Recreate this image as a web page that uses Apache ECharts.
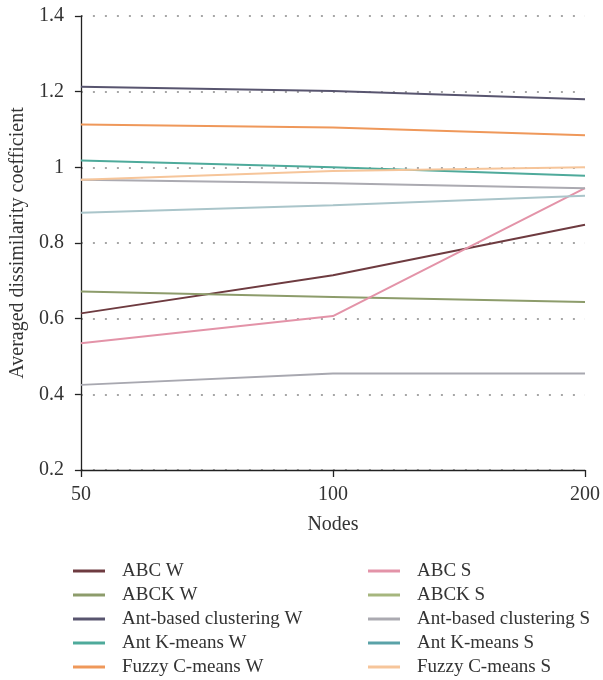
<!DOCTYPE html>
<html>
<head>
<meta charset="utf-8">
<title>Averaged dissimilarity coefficient</title>
<script src="https://cdn.jsdelivr.net/npm/echarts@6/dist/echarts.min.js"></script>
<style>
  html, body { margin: 0; padding: 0; background: #fff; }
  #chart { width: 603px; height: 680px; }
</style>
</head>
<body>
<div id="chart"></div>
<script>
// x轴节点数
var nodes = ['50', '100', '200'];

// 各算法的平均相异系数
var abcW = [0.614, 0.715, 0.848];
var abcS = [0.535, 0.607, 0.945];
var abckW = [0.672, 0.657, 0.644];
var abckS = [0.425, 0.455, 0.455];
var antBasedW = [1.213, 1.202, 1.180];
var antBasedS = [0.967, 0.958, 0.945];
var antKmeansW = [1.018, 1.000, 0.978];
var antKmeansS = [0.880, 0.900, 0.925];
var fuzzyW = [1.113, 1.105, 1.085];
var fuzzyS = [0.967, 0.990, 1.000];

var yTicks = [0.2, 0.4, 0.6, 0.8, 1, 1.2, 1.4];

var FONT = "'Liberation Serif', 'Times New Roman', serif";

// 名称, 数据, 线条颜色, 图例颜色
var wList = [
    ['ABC W', abcW, '#6e3b40', '#6e3b40'],
    ['ABCK W', abckW, '#8d9c6b', '#8d9c6b'],
    ['Ant-based clustering W', antBasedW, '#58556f', '#58556f'],
    ['Ant K-means W', antKmeansW, '#4eaa9b', '#4eaa9b'],
    ['Fuzzy C-means W', fuzzyW, '#ef985a', '#ef985a']
];
var sList = [
    ['ABC S', abcS, '#e393a8', '#e393a8'],
    ['ABCK S', abckS, '#a8a8b0', '#a6b67e'],
    ['Ant-based clustering S', antBasedS, '#abaab1', '#abaab1'],
    ['Ant K-means S', antKmeansS, '#aac5ca', '#5aa2a8'],
    ['Fuzzy C-means S', fuzzyS, '#f6c59a', '#f6c59a']
];

var seriesData = wList.concat(sList).map(function (item) {
    return {
        type: 'line',
        name: item[0],
        data: item[1],
        symbol: 'none',
        color: item[2],
        lineStyle: { width: 2, color: item[2] },
        z: item[0] === 'ABCK S' ? 1 : 2
    };
});

// 两列竖排图例
function legendOf(list, left) {
    return {
        orient: 'vertical',
        left: left,
        top: 560,
        padding: 0,
        itemWidth: 32,
        itemHeight: 3,
        itemGap: 2,
        icon: 'rect',
        textStyle: {
            fontFamily: FONT,
            fontSize: 19,
            color: '#333',
            lineHeight: 22,
            padding: [0, 0, 0, 12]
        },
        data: list.map(function (item) {
            return { name: item[0], itemStyle: { color: item[3] } };
        })
    };
}

var chart = echarts.init(document.getElementById('chart'));
chart.setOption({
    animation: false,
    textStyle: { fontFamily: FONT },
    legend: [legendOf(wList, 73), legendOf(sList, 368)],
    grid: { left: 79, right: 17, top: 16, bottom: 210, containLabel: false },
    xAxis: {
        type: 'category',
        data: nodes,
        boundaryGap: false,
        name: 'Nodes',
        nameLocation: 'middle',
        nameGap: 45,
        nameTextStyle: { fontFamily: FONT, fontSize: 20, color: '#333' },
        axisLine: { lineStyle: { color: '#222', width: 1.3 } },
        axisTick: { show: true, length: 7, lineStyle: { color: '#222', width: 1.3 } },
        axisLabel: { fontFamily: FONT, fontSize: 20, color: '#333', margin: 15 },
        splitLine: { show: false }
    },
    yAxis: {
        type: 'value',
        min: yTicks[0],
        max: yTicks[yTicks.length - 1],
        interval: 0.2,
        name: 'Averaged dissimilarity coefficient',
        nameLocation: 'middle',
        nameGap: 51,
        nameTextStyle: { fontFamily: FONT, fontSize: 20, color: '#333' },
        axisLine: { show: true, lineStyle: { color: '#222', width: 1.3 } },
        axisTick: { show: true, length: 6, lineStyle: { color: '#222', width: 1.3 } },
        axisLabel: {
            fontFamily: FONT,
            fontSize: 20,
            color: '#333',
            margin: 17,
            formatter: function (v) {
                return Math.abs(v - 1) < 1e-9 ? '1' : v.toFixed(1);
            }
        },
        splitLine: {
            show: true,
            lineStyle: { color: '#8a8a8a', width: 1.5, type: [2, 10] }
        }
    },
    series: seriesData
});
</script>
</body>
</html>
